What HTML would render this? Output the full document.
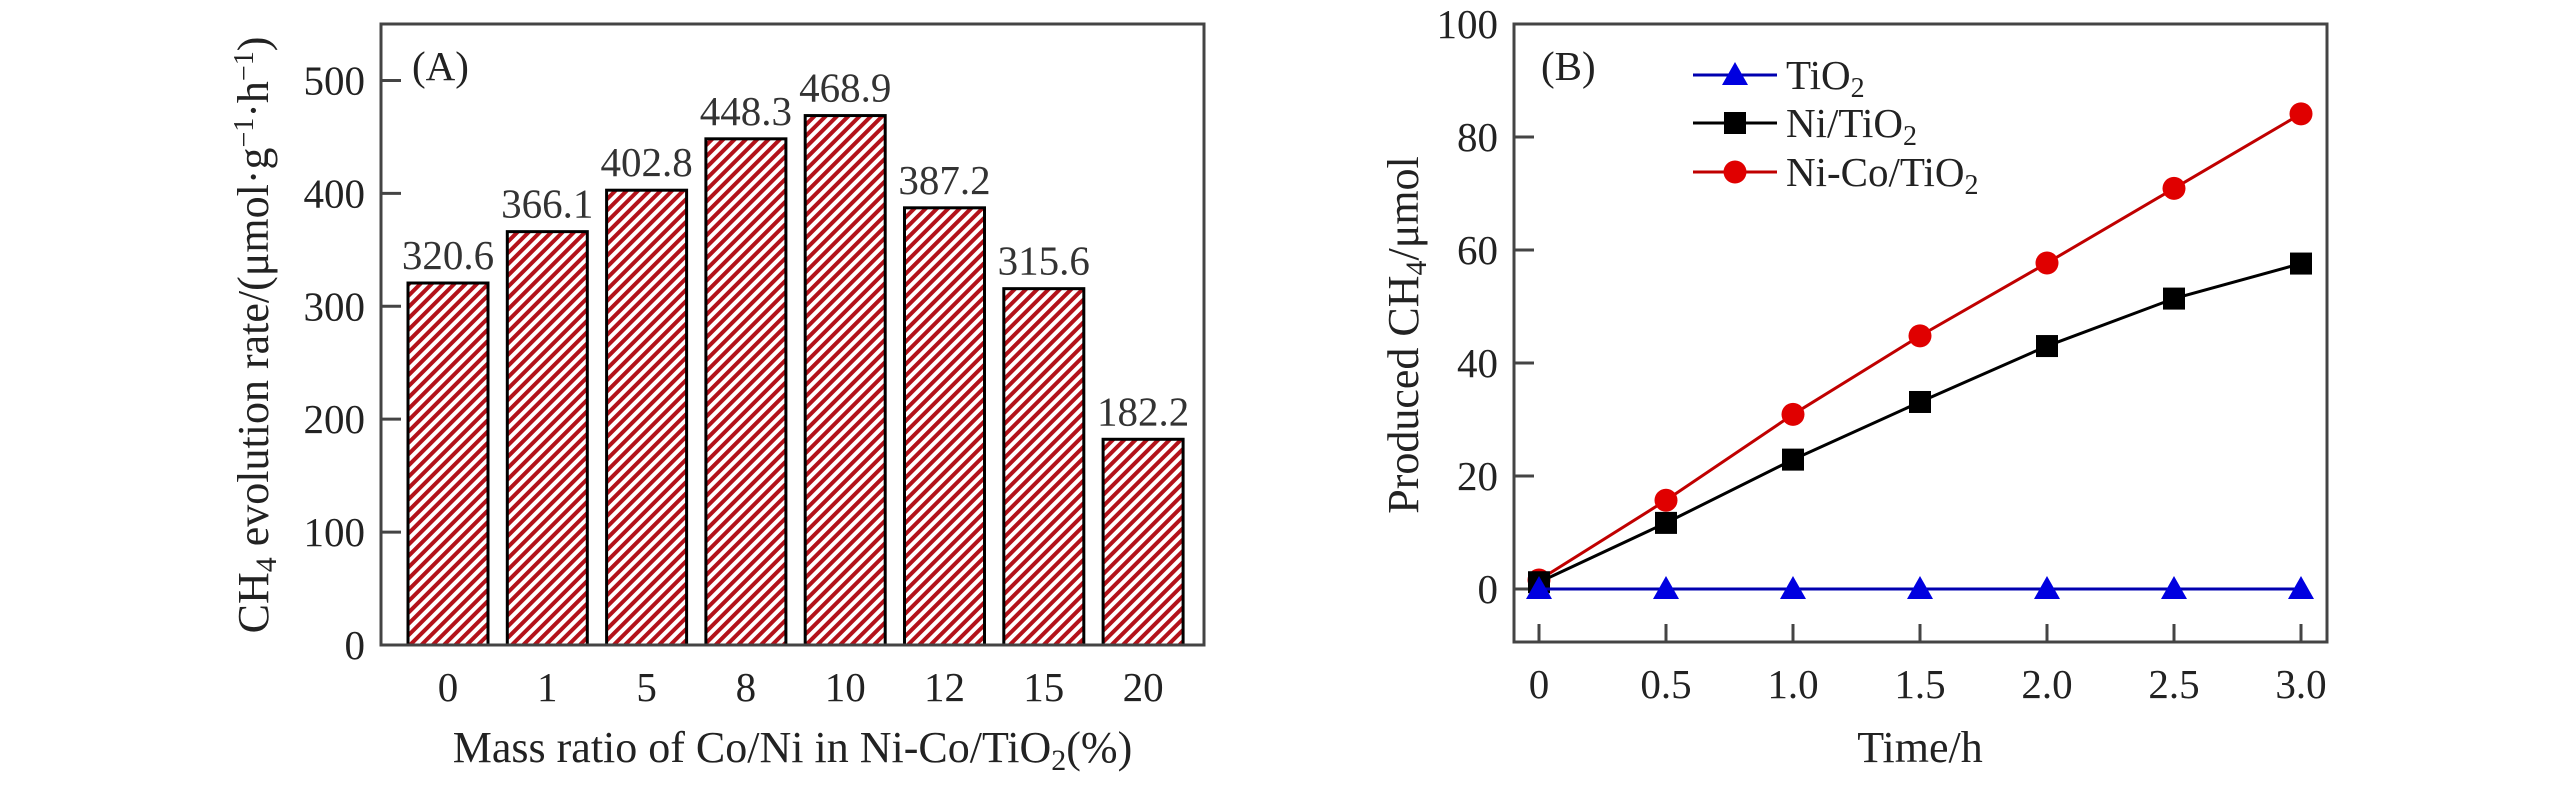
<!DOCTYPE html>
<html><head><meta charset="utf-8"><style>
html,body{margin:0;padding:0;background:#fff;}
svg{display:block;font-family:"Liberation Serif","Times New Roman",serif;}
</style></head><body>
<svg id="chart" width="2567" height="787" viewBox="0 0 2567 787" xmlns="http://www.w3.org/2000/svg">
<defs>
<pattern id="hatch" patternUnits="userSpaceOnUse" width="8" height="8" patternTransform="rotate(45)">
<rect width="8" height="8" fill="#fff"/>
<rect width="4" height="8" fill="#b3121a"/>
</pattern>
</defs>
<g id="panelA"></g>
<g id="panelB"></g>
</svg>
<script>
// Panel A data
const catsA = ["0","1","5","8","10","12","15","20"];
const valsA = [320.6,366.1,402.8,448.3,468.9,387.2,315.6,182.2];
const ticksA = [0,100,200,300,400,500];
// Panel B data
const timesB = [0,0.5,1.0,1.5,2.0,2.5,3.0];
const xTickLabelsB = ["0","0.5","1.0","1.5","2.0","2.5","3.0"];
const tio2 = [0,0,0,0,0,0,0];
const niTio2 = [1.2,11.7,22.9,33.1,43.0,51.4,57.6];
const niCoTio2 = [1.6,15.7,30.9,44.8,57.7,70.9,84.1];
const ticksB = [0,20,40,60,80,100];

const NS="http://www.w3.org/2000/svg";
function mk(parent,tag,attrs,text){const e=document.createElementNS(NS,tag);for(const k in attrs)e.setAttribute(k,attrs[k]);if(text!==undefined)e.textContent=text;parent.appendChild(e);return e;}
const TF=41, TT=44;

// ---------- Panel A ----------
const A=document.getElementById('panelA');
const aL=381,aR=1204,aT=24,aB=645;
const yA=v=>aB-(v/550)*(aB-aT);
const xA=i=>448+i*99.3;
for(let i=0;i<valsA.length;i++){
  const r=mk(A,'rect',{x:xA(i)-40,y:yA(valsA[i]),width:80,height:aB-yA(valsA[i]),fill:'url(#hatch)',stroke:'#000','stroke-width':3});
  
  
  const t=mk(A,'text',{x:xA(i),y:yA(valsA[i])-14,'text-anchor':'middle','font-size':TF,fill:'#333'},valsA[i].toFixed(1));
  
  
  const xl=mk(A,'text',{x:xA(i),y:701,'text-anchor':'middle','font-size':TF,fill:'#222'},catsA[i]);
  
  
}
for(const v of ticksA){
  const l=mk(A,'line',{x1:aL,x2:aL+20,y1:yA(v),y2:yA(v),stroke:'#444','stroke-width':3});
  
  
  const t=mk(A,'text',{x:aL-16,y:yA(v)+14,'text-anchor':'end','font-size':TF,fill:'#222'},String(v));
  
  
}
const fA=mk(A,'rect',{x:aL,y:aT,width:aR-aL,height:aB-aT,fill:'none',stroke:'#444','stroke-width':3});


const lA=mk(A,'text',{x:412,y:80,'font-size':TF,fill:'#222'},'(A)');


const xtA=mk(A,'text',{x:(aL+aR)/2,y:762,'text-anchor':'middle','font-size':TT,fill:'#222'});


xtA.innerHTML='Mass ratio of Co/Ni in Ni-Co/TiO<tspan font-size="30" dy="8">2</tspan><tspan dy="-8">(%)</tspan>';
const ytA=mk(A,'text',{transform:'translate(268,335) rotate(-90)','text-anchor':'middle','font-size':TT,fill:'#222'});


ytA.innerHTML='CH<tspan font-size="30" dy="8">4</tspan><tspan dy="-8"> evolution rate/(μmol·g</tspan><tspan font-size="28" dy="-15">−1</tspan><tspan dy="15">·h</tspan><tspan font-size="28" dy="-15">−1</tspan><tspan dy="15">)</tspan>';

// ---------- Panel B ----------
const B=document.getElementById('panelB');
const bL=1514,bR=2327,bT=24,bB=642;
const xB=v=>1539+v*(2301-1539)/3;
const yB=v=>589-v*(589-24)/100;
for(let i=0;i<timesB.length;i++){
  const l=mk(B,'line',{x1:xB(timesB[i]),x2:xB(timesB[i]),y1:bB,y2:bB-18,stroke:'#444','stroke-width':3});
  
  
  const t=mk(B,'text',{x:xB(timesB[i]),y:698,'text-anchor':'middle','font-size':TF,fill:'#222'},xTickLabelsB[i]);
  
  
}
for(const v of ticksB){
  const l=mk(B,'line',{x1:bL,x2:bL+20,y1:yB(v),y2:yB(v),stroke:'#444','stroke-width':3});
  
  
  const t=mk(B,'text',{x:bL-16,y:yB(v)+14,'text-anchor':'end','font-size':TF,fill:'#222'},String(v));
  
  
}
function marker(g,type,x,y,color){
  let m;
  if(type==='tri') m=mk(g,'polygon',{points:`${x},${y-13} ${x-13},${y+10} ${x+13},${y+10}`,fill:color});
  else if(type==='sq') m=mk(g,'rect',{x:x-11,y:y-11,width:22,height:22,fill:color});
  else m=mk(g,'circle',{cx:x,cy:y,r:11.5,fill:color});
  return m;
}
const series=[
  {name:'Ni-Co/TiO2',data:niCoTio2,color:'#e00000',line:'#c00000',type:'circ'},
  {name:'Ni/TiO2',data:niTio2,color:'#000',line:'#000',type:'sq'},
  {name:'TiO2',data:tio2,color:'#0000e0',line:'#0000b0',type:'tri'}
];
for(const s of series){
  const g=mk(B,'g',{});
  
  
  const pts=s.data.map((v,i)=>xB(timesB[i])+','+yB(v)).join(' ');
  const pl=mk(g,'polyline',{points:pts,fill:'none',stroke:s.line,'stroke-width':3});
  
  
  s.data.forEach((v,i)=>{
    const m=marker(g,s.type,xB(timesB[i]),yB(v),s.color);
    
    
  });
}
const fB=mk(B,'rect',{x:bL,y:bT,width:bR-bL,height:bB-bT,fill:'none',stroke:'#444','stroke-width':3});


const lB=mk(B,'text',{x:1541,y:80,'font-size':TF,fill:'#222'},'(B)');


// legend
const leg=[{t:'TiO',type:'tri',c:'#0000e0',l:'#0000b0',y:75},{t:'Ni/TiO',type:'sq',c:'#000',l:'#000',y:123},{t:'Ni-Co/TiO',type:'circ',c:'#e00000',l:'#c00000',y:172}];
for(const e of leg){
  const g=mk(B,'g',{});
  
  
  mk(g,'line',{x1:1693,x2:1777,y1:e.y,y2:e.y,stroke:e.l,'stroke-width':3});
  marker(g,e.type,1735,e.y,e.c);
  const t=mk(g,'text',{x:1786,y:e.y+14,'font-size':TF,fill:'#222'});
  t.innerHTML=e.t+'<tspan font-size="28" dy="8">2</tspan>';
}
const xtB=mk(B,'text',{x:1920,y:762,'text-anchor':'middle','font-size':TT,fill:'#222'},'Time/h');


const ytB=mk(B,'text',{transform:'translate(1418,335) rotate(-90)','text-anchor':'middle','font-size':TT,fill:'#222'});


ytB.innerHTML='Produced CH<tspan font-size="30" dy="8">4</tspan><tspan dy="-8">/μmol</tspan>';
</script>
</body></html>
